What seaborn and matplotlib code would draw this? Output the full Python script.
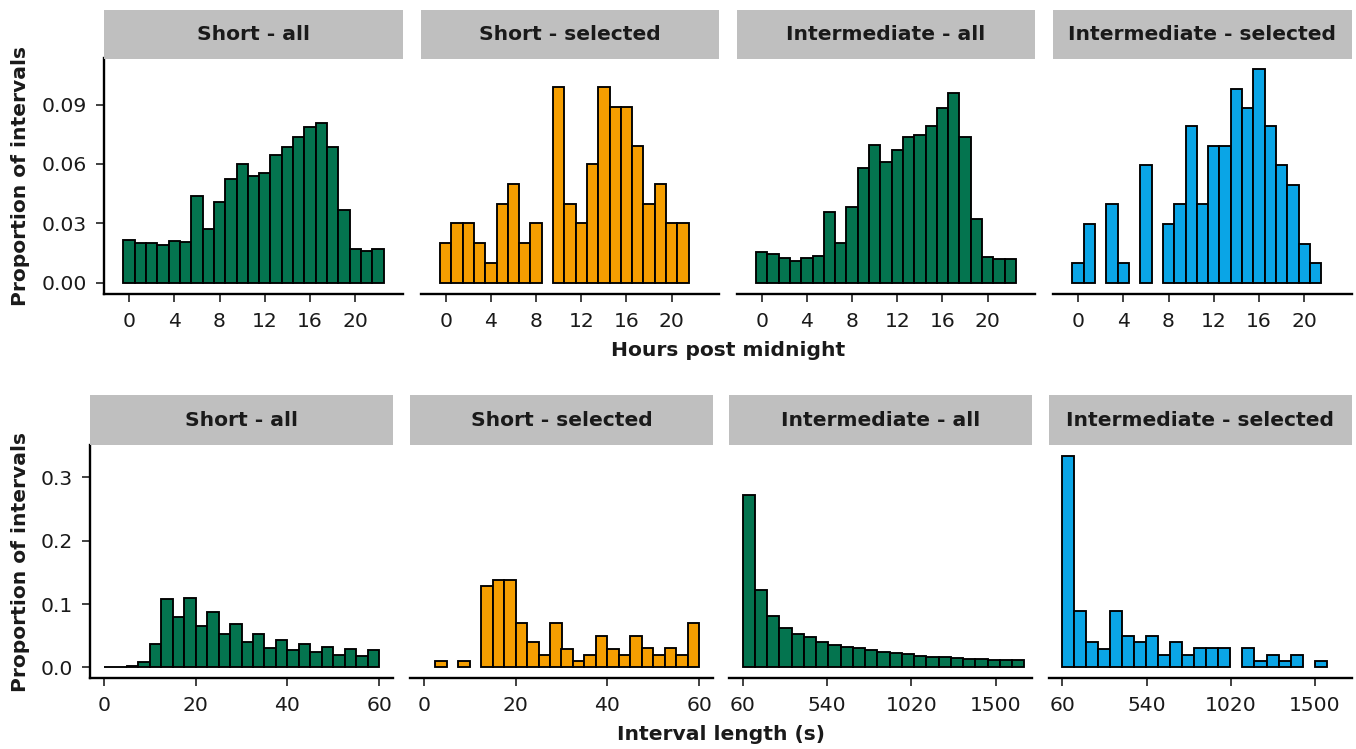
import numpy as np
import pandas as pd
import matplotlib
matplotlib.use("Agg")
import matplotlib.pyplot as plt
import seaborn as sns

# ---------------- data ----------------
panel_titles = ["Short - all", "Short - selected", "Intermediate - all", "Intermediate - selected"]

short_all_hours = [0.0216, 0.0202, 0.0199, 0.0189, 0.0212, 0.0206, 0.0438, 0.0270, 0.0410, 0.0524,
                   0.0598, 0.0539, 0.0555, 0.0647, 0.0686, 0.0738, 0.0785, 0.0809, 0.0688, 0.0366,
                   0.0170, 0.0158, 0.0169]
short_sel_hours = [0.020, 0.030, 0.030, 0.020, 0.010, 0.040, 0.050, 0.020, 0.030, 0.0,
                   0.099, 0.040, 0.030, 0.060, 0.099, 0.089, 0.089, 0.069, 0.040, 0.050,
                   0.030, 0.030, 0.0]
int_all_hours = [0.0157, 0.0145, 0.0125, 0.0110, 0.0125, 0.0137, 0.0356, 0.0199, 0.0384, 0.0578,
                 0.0694, 0.0612, 0.0671, 0.0735, 0.0748, 0.0790, 0.0883, 0.0957, 0.0735, 0.0322,
                 0.0130, 0.0118, 0.0118]
int_sel_hours = [0.0099, 0.0297, 0.0, 0.0396, 0.0099, 0.0, 0.0594, 0.0, 0.0297, 0.0396,
                 0.0792, 0.0396, 0.0693, 0.0693, 0.0980, 0.0881, 0.1080, 0.0792, 0.0594, 0.0495,
                 0.0198, 0.0099, 0.0]

# interval length (s): short panels use 2.5 s bins over 0-60
short_len_edges = [0, 2.5, 5, 7.5, 10, 12.5, 15, 17.5, 20, 22.5, 25, 27.5, 30, 32.5, 35, 37.5,
                   40, 42.5, 45, 47.5, 50, 52.5, 55, 57.5, 60]
short_all_len = [0.0003, 0.0010, 0.0015, 0.0088, 0.037, 0.108, 0.079, 0.109, 0.066, 0.087,
                 0.052, 0.068, 0.040, 0.0525, 0.031, 0.043, 0.0276, 0.037, 0.025, 0.033,
                 0.020, 0.0296, 0.018, 0.027]
short_sel_len = [0.0, 0.0104, 0.0, 0.0104, 0.0, 0.129, 0.138, 0.138, 0.0697, 0.040,
                 0.019, 0.070, 0.0296, 0.0094, 0.019, 0.049, 0.0296, 0.019, 0.049, 0.030,
                 0.019, 0.030, 0.019, 0.070]

# intermediate panels: bins starting at 60 s
int_all_start, int_all_stop = 60, 1663
int_all_len = [0.2714, 0.122, 0.0806, 0.0624, 0.052, 0.0473, 0.040, 0.0359, 0.0322, 0.0302,
               0.0276, 0.0244, 0.0229, 0.0208, 0.0187, 0.0172, 0.0161, 0.0146, 0.0135, 0.013,
               0.012, 0.012, 0.012]
int_sel_start, int_sel_stop = 60, 1566
int_sel_len = [0.334, 0.089, 0.040, 0.0296, 0.089, 0.049, 0.040, 0.049, 0.019, 0.040,
               0.019, 0.030, 0.030, 0.030, 0.0, 0.030, 0.0099, 0.019, 0.0099, 0.019,
               0.0, 0.0099]

hour_ticks = [0, 4, 8, 12, 16, 20]
short_len_ticks = [0, 20, 40, 60]
int_len_ticks = [60, 540, 1020, 1500]
top_yticks = [0.0, 0.03, 0.06, 0.09]
top_ylabels = ["0.00", "0.03", "0.06", "0.09"]
bot_yticks = [0.0, 0.1, 0.2, 0.3]
bot_ylabels = ["0.0", "0.1", "0.2", "0.3"]

GREEN, ORANGE, BLUE = "#04744F", "#F59E00", "#0AA5E6"
colors = [GREEN, ORANGE, GREEN, BLUE]

# ---------------- style ----------------
sns.set_theme(style="white")
plt.rcParams['font.family'] = ['DejaVu Sans']
FS = 14.6
TXT = "#1a1a1a"

W, H = 1356, 749
fig = plt.figure(figsize=(W / 100, H / 100), dpi=100)
fig.patch.set_facecolor("white")


def px_axes(x0, x1, ytop, ybot):
    return fig.add_axes([x0 / W, 1 - ybot / H, (x1 - x0) / W, (ybot - ytop) / H])


def draw_hist(ax, edges, values, color):
    edges = [float(e) for e in edges]
    centers = [(a + b) / 2 for a, b in zip(edges[:-1], edges[1:])]
    df = pd.DataFrame({"x": centers, "w": [float(v) for v in values]})
    sns.histplot(data=df, x="x", weights="w", bins=edges, ax=ax, color=color,
                 alpha=1, edgecolor="black", linewidth=1.35, stat="count")
    for p in list(ax.patches):
        if p.get_height() <= 0:
            p.remove()
    ax.set_xlabel("")
    ax.set_ylabel("")


def style_axes(ax, first, xticks, xlim, ylim, yticks, ylabels):
    ax.set_facecolor("white")
    ax.set_xlim(*xlim)
    ax.set_ylim(*ylim)
    ax.set_xticks(xticks)
    ax.set_xticklabels([str(t) for t in xticks])
    for s in ["top", "right"]:
        ax.spines[s].set_visible(False)
    ax.spines["bottom"].set_linewidth(1.7)
    ax.spines["bottom"].set_color("black")
    if first:
        ax.spines["left"].set_linewidth(1.7)
        ax.spines["left"].set_color("black")
        ax.set_yticks(yticks)
        ax.set_yticklabels(ylabels)
    else:
        ax.spines["left"].set_visible(False)
        ax.set_yticks([])
    ax.tick_params(axis="x", length=6, width=1.3, color="#333333", labelsize=FS,
                   labelcolor=TXT, pad=7.2, bottom=True, direction="out")
    ax.tick_params(axis="y", length=6, width=1.3, color="#333333", labelsize=FS,
                   labelcolor=TXT, pad=6.5, left=first, direction="out")
    ax.grid(False)


def strip(x0, x1, ytop, ybot, text):
    s = px_axes(x0, x1, ytop, ybot)
    s.set_facecolor("#BFBFBF")
    for sp in s.spines.values():
        sp.set_visible(False)
    s.set_xticks([])
    s.set_yticks([])
    s.text(0.5, 0.5, text, ha="center", va="center", fontsize=FS,
           fontweight="bold", color=TXT, transform=s.transAxes)


# ---------------- top row: hours ----------------
top_x = [(104, 403), (421, 719), (737, 1035), (1053, 1352)]
top_ytop, top_ybot = 58.5, 294
hour_edges = [h - 0.5 for h in range(24)]
top_data = [short_all_hours, short_sel_hours, int_all_hours, int_sel_hours]
for i, (x0, x1) in enumerate(top_x):
    ax = px_axes(x0, x1, top_ytop, top_ybot)
    draw_hist(ax, hour_edges, top_data[i], colors[i])
    style_axes(ax, i == 0, hour_ticks, (-2.2, 24.2), (-0.0057, 0.1133), top_yticks, top_ylabels)
    strip(x0, x1, 10, top_ytop, panel_titles[i])

# ---------------- bottom row: interval length ----------------
bot_x = [(90, 393), (410, 713), (729, 1032), (1049, 1352)]
bot_ytop, bot_ybot = 445, 678
int_all_edges = np.linspace(int_all_start, int_all_stop, len(int_all_len) + 1).tolist()
int_sel_edges = np.linspace(int_sel_start, int_sel_stop, len(int_sel_len) + 1).tolist()
bot_specs = [
    (short_len_edges, short_all_len, short_len_ticks, (-3, 63)),
    (short_len_edges, short_sel_len, short_len_ticks, (-3, 63)),
    (int_all_edges, int_all_len, int_len_ticks, (-18, 1707)),
    (int_sel_edges, int_sel_len, int_len_ticks, (-16, 1711)),
]
for i, (x0, x1) in enumerate(bot_x):
    edges, vals, ticks, xlim = bot_specs[i]
    ax = px_axes(x0, x1, bot_ytop, bot_ybot)
    draw_hist(ax, edges, vals, colors[i])
    style_axes(ax, i == 0, ticks, xlim, (-0.0167, 0.351), bot_yticks, bot_ylabels)
    strip(x0, x1, 395, bot_ytop, panel_titles[i])

# ---------------- axis titles ----------------
fig.text(21 / W, 1 - 176 / H, "Proportion of intervals", rotation=90, ha="center", va="center",
         fontsize=FS, fontweight="bold", color=TXT)
fig.text(21 / W, 1 - 561.5 / H, "Proportion of intervals", rotation=90, ha="center", va="center",
         fontsize=FS, fontweight="bold", color=TXT)
fig.text(728 / W, 1 - 350 / H, "Hours post midnight", ha="center", va="center",
         fontsize=FS, fontweight="bold", color=TXT)
fig.text(721 / W, 1 - 734 / H, "Interval length (s)", ha="center", va="center",
         fontsize=FS, fontweight="bold", color=TXT)

fig.savefig("out.png", dpi=100, facecolor="white")
